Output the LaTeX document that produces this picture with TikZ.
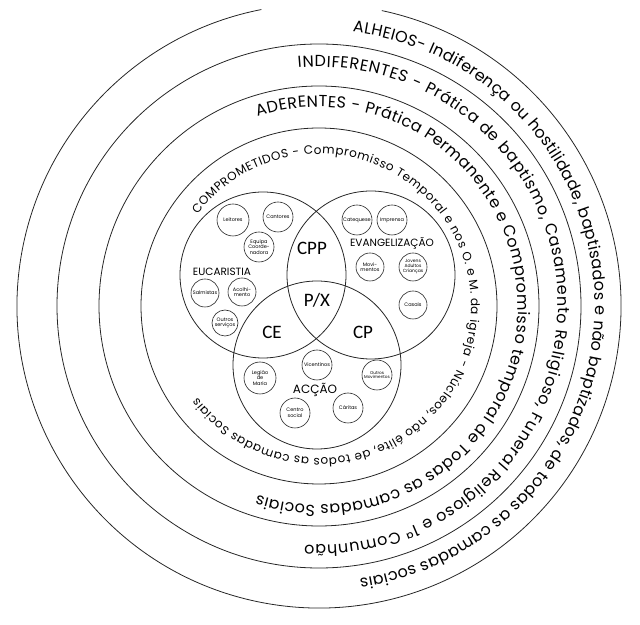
\documentclass[tikz,border=0pt]{standalone}
\usepackage{fontspec}
\setmainfont{Poppins}
\newfontfamily\vennfont{Carlito}
\usetikzlibrary{decorations.text, positioning}
\tikzset{
  ring/.style ={draw=black!85, line width=0.8pt},
  lobe/.style ={draw=black!85, line width=0.8pt},
  grp/.style  ={circle, draw=black!85, line width=0.6pt, inner sep=0pt,
                minimum size=30pt, align=center,
                font=\fontsize{5}{5.6}\selectfont},
  area/.style ={font=\fontsize{10.5}{12}\selectfont, inner sep=1pt},
  core/.style ={font=\vennfont\fontsize{19}{20}\selectfont, inner sep=1pt},
  along/.style={decorate, decoration={text along path,
                text align={fit to path}, text={#1}}}
}
\newcommand\bigring{\fontsize{16}{16}\selectfont}
\newcommand\smallring{\fontsize{12}{12}\selectfont}

\begin{document}
\begin{tikzpicture}[x=1pt, y=1pt]
\useasboundingbox (0,0) rectangle (640,624);
\coordinate (O) at (319,318);

%  Rings (outer one open at the top)
\draw[ring] ([shift={(78:302)}]O) arc[start angle=78, end angle=-259, radius=302];
\draw[ring] (O) circle[radius=262];
\draw[ring] (O) circle[radius=220];
\draw[ring] (O) circle[radius=178];

%  Ring texts 
\path[along={|\bigring|ALHEIOS- Indiferença ou hostilidade, baptisados e não baptizados, de todas as camadas sociais}]
  ([shift={(83:276)}]O) arc[start angle=83, end angle=-81.5, radius=276];
\path[along={|\bigring|INDIFERENTES - Prática de baptismo, Casamento Religioso, Funeral Religioso e 1ª Comunhão}]
  ([shift={(95:239)}]O) arc[start angle=95, end angle=-93.4, radius=239];
\path[along={|\bigring|ADERENTES - Prática Permanente e Compromisso temporal de Todas as camadas Sociais}]
  ([shift={(108:199)}]O) arc[start angle=108, end angle=-108, radius=199];
\path[along={|\smallring|COMPROMETIDOS - Compromisso Temporal e nos O. e M. da igreja - Núcleos, não élite, de todos as camadas Sociais}]
  ([shift={(143:152)}]O) arc[start angle=143, end angle=-143, radius=152];

%  Venn 
\coordinate (eu) at (263,349);
\coordinate (ev) at (371,349);
\coordinate (ac) at (317,259);
\draw[lobe] (eu) circle[radius=83];
\draw[lobe] (ev) circle[radius=84];
\draw[lobe] (ac) circle[radius=84];

\node[core] (cpp) at (312,376) {CPP};
\node[core] (px)  at (317,324) {P/X};
\node[core] (ce)  at (272,292) {CE};
\node[core] (cp)  at (363,292) {CP};

%  Eucaristia 
\node[area] (eucaristia) at (222,352) {EUCARISTIA};
\node[grp, minimum size=32pt] (leitores) at (233,404) {Leitores};
\node[grp] (cantores) at (278,407) {Cantores};
\node[grp] (equipa) at (259,377) {Equipa\\Coorde-\\nadora};
\node[grp, minimum size=28pt] (salmistas) at (205,331) {Salmistas};
\node[grp, minimum size=28pt] (acolhimento) at (242,332) {Acolhi-\\mento};
\node[grp, minimum size=26pt] (servicos) at (225,301) {Outros\\serviços};

%  Evangelizacao 
\node[area] (evangelizacao) at (392,381) {EVANGELIZAÇÃO};
\node[grp] (catequese) at (357,404) {Catequese};
\node[grp] (imprensa) at (392,404) {Imprensa};
\node[grp, minimum size=28pt] (movimentos) at (370,357) {Movi-\\mentos};
\node[grp, minimum size=28pt, font=\fontsize{4.5}{5}\selectfont] (jovens) at (413,357) {Jovens\\Adultos\\Crianças};
\node[grp, minimum size=28pt] (casais) at (413,319) {Casais};

%  Accao 
\node[area, font=\fontsize{12}{13}\selectfont] (accao) at (315,234) {ACÇÃO};
\node[grp] (vicentinos) at (317,259) {Vicentinos};
\node[grp, minimum size=32pt] (legiao) at (260,246) {Legião\\de\\Maria};
\node[grp, font=\fontsize{4.2}{4.8}\selectfont] (outrosmov) at (377,249) {Outros\\Movimentos};
\node[grp] (centro) at (295,211) {Centro\\social};
\node[grp] (caritas) at (348,216) {Cáritas};
\end{tikzpicture}
\end{document}
